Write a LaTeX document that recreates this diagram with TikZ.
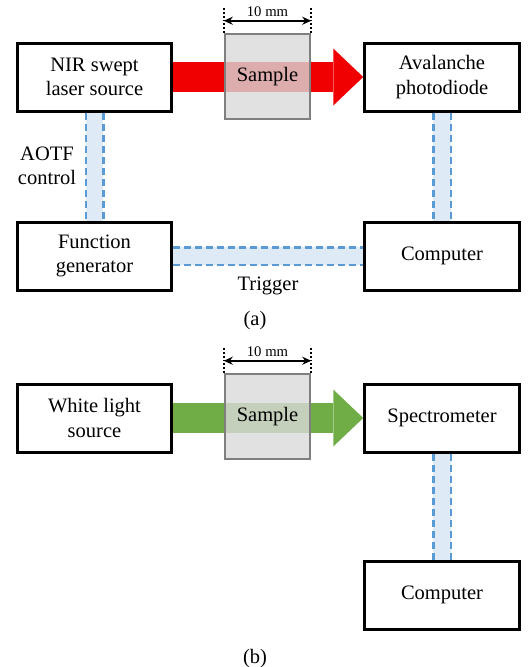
\documentclass[tikz,border=0pt]{standalone}
\usepackage{fontspec}
\setmainfont{Liberation Serif}
\newfontfamily\figfont{Liberation Serif}
\usetikzlibrary{arrows.meta, positioning}
\definecolor{beamred}{RGB}{240,0,0}
\definecolor{beamgreen}{RGB}{112,173,71}
\definecolor{linkblue}{RGB}{91,155,213}
\definecolor{linkfill}{RGB}{222,235,247}
\definecolor{samplegray}{RGB}{217,217,217}
\definecolor{sampleedge}{RGB}{127,127,127}

\begin{document}
\begin{tikzpicture}[x=1pt, y=-1pt, >=Stealth, font=\figfont\fontsize{20.5}{24.5}\selectfont,
  box/.style={draw, line width=3pt, minimum width=154.5pt, minimum height=68pt, inner sep=0pt, align=center},
  sample/.style={draw=sampleedge, line width=2.5pt, fill=samplegray, fill opacity=0.8, text opacity=1, minimum size=85pt, inner sep=0pt},
  link/.style={preaction={draw=linkfill, line width=17.5pt}, draw=linkblue, line width=2.5pt, dash pattern=on 7pt off 4pt, double=linkfill, double distance=15pt},
  beam/.style={line width=30pt, -{Triangle[length=30pt, width=57pt, line width=0pt]}},
  dim/.style={font=\figfont\fontsize{14.7}{17}\selectfont, inner sep=3pt},
  dimline/.style={{Stealth[length=9pt, width=8pt]}-{Stealth[length=9pt, width=8pt]}, line width=1.8pt},
  guide/.style={dotted, line width=1.8pt}]
\useasboundingbox (0,0) rectangle (528,667);

% --- (a) swept laser setup ---
\node[box] (nir) at (94.5, 77) {NIR swept\\laser source};
\node[box] (apd) at (442, 77) {Avalanche\\photodiode};
\node[box] (fg) at (94.5, 256) {Function\\generator};
\node[box] (cpa) at (442, 256) {Computer};

\draw[link] (nir.south) -- (fg.north);
\draw[link] (apd.south) -- (cpa.north);
\draw[link] (fg.east) -- (cpa.west);
\node[align=center] (aotf) at (47, 166) {AOTF\\control};
\node (trig) at (268, 286) {Trigger};

% beam through the sample
\draw[beam, beamred] (nir.east) -- (apd.west);
\node[sample] (smpa) at (267.5, 76.5) {Sample};
\draw[guide] (smpa.north west) -- ++(0, -25);
\draw[guide] (smpa.north east) -- ++(0, -25);
\coordinate (dla) at ([yshift=12pt]smpa.north west);
\coordinate (dra) at ([yshift=12pt]smpa.north east);
\draw[dimline] (dla) -- node[above, dim] (wa) {10 mm} (dra);

\node (capa) at (255, 321) {(a)};

% --- (b) white light setup ---
\node[box] (wls) at (94.5, 418) {White light\\source};
\node[box] (spec) at (442, 418) {Spectrometer};
\node[box] (cpb) at (442, 595) {Computer};

\draw[link] (spec.south) -- (cpb.north);

\draw[beam, beamgreen] (wls.east) -- (spec.west);
\node[sample] (smpb) at (267.5, 416.5) {Sample};
\draw[guide] (smpb.north west) -- ++(0, -25);
\draw[guide] (smpb.north east) -- ++(0, -25);
\coordinate (dlb) at ([yshift=12pt]smpb.north west);
\coordinate (drb) at ([yshift=12pt]smpb.north east);
\draw[dimline] (dlb) -- node[above, dim] (wb) {10 mm} (drb);

\node (capb) at (255, 659) {(b)};

\end{tikzpicture}
\end{document}
